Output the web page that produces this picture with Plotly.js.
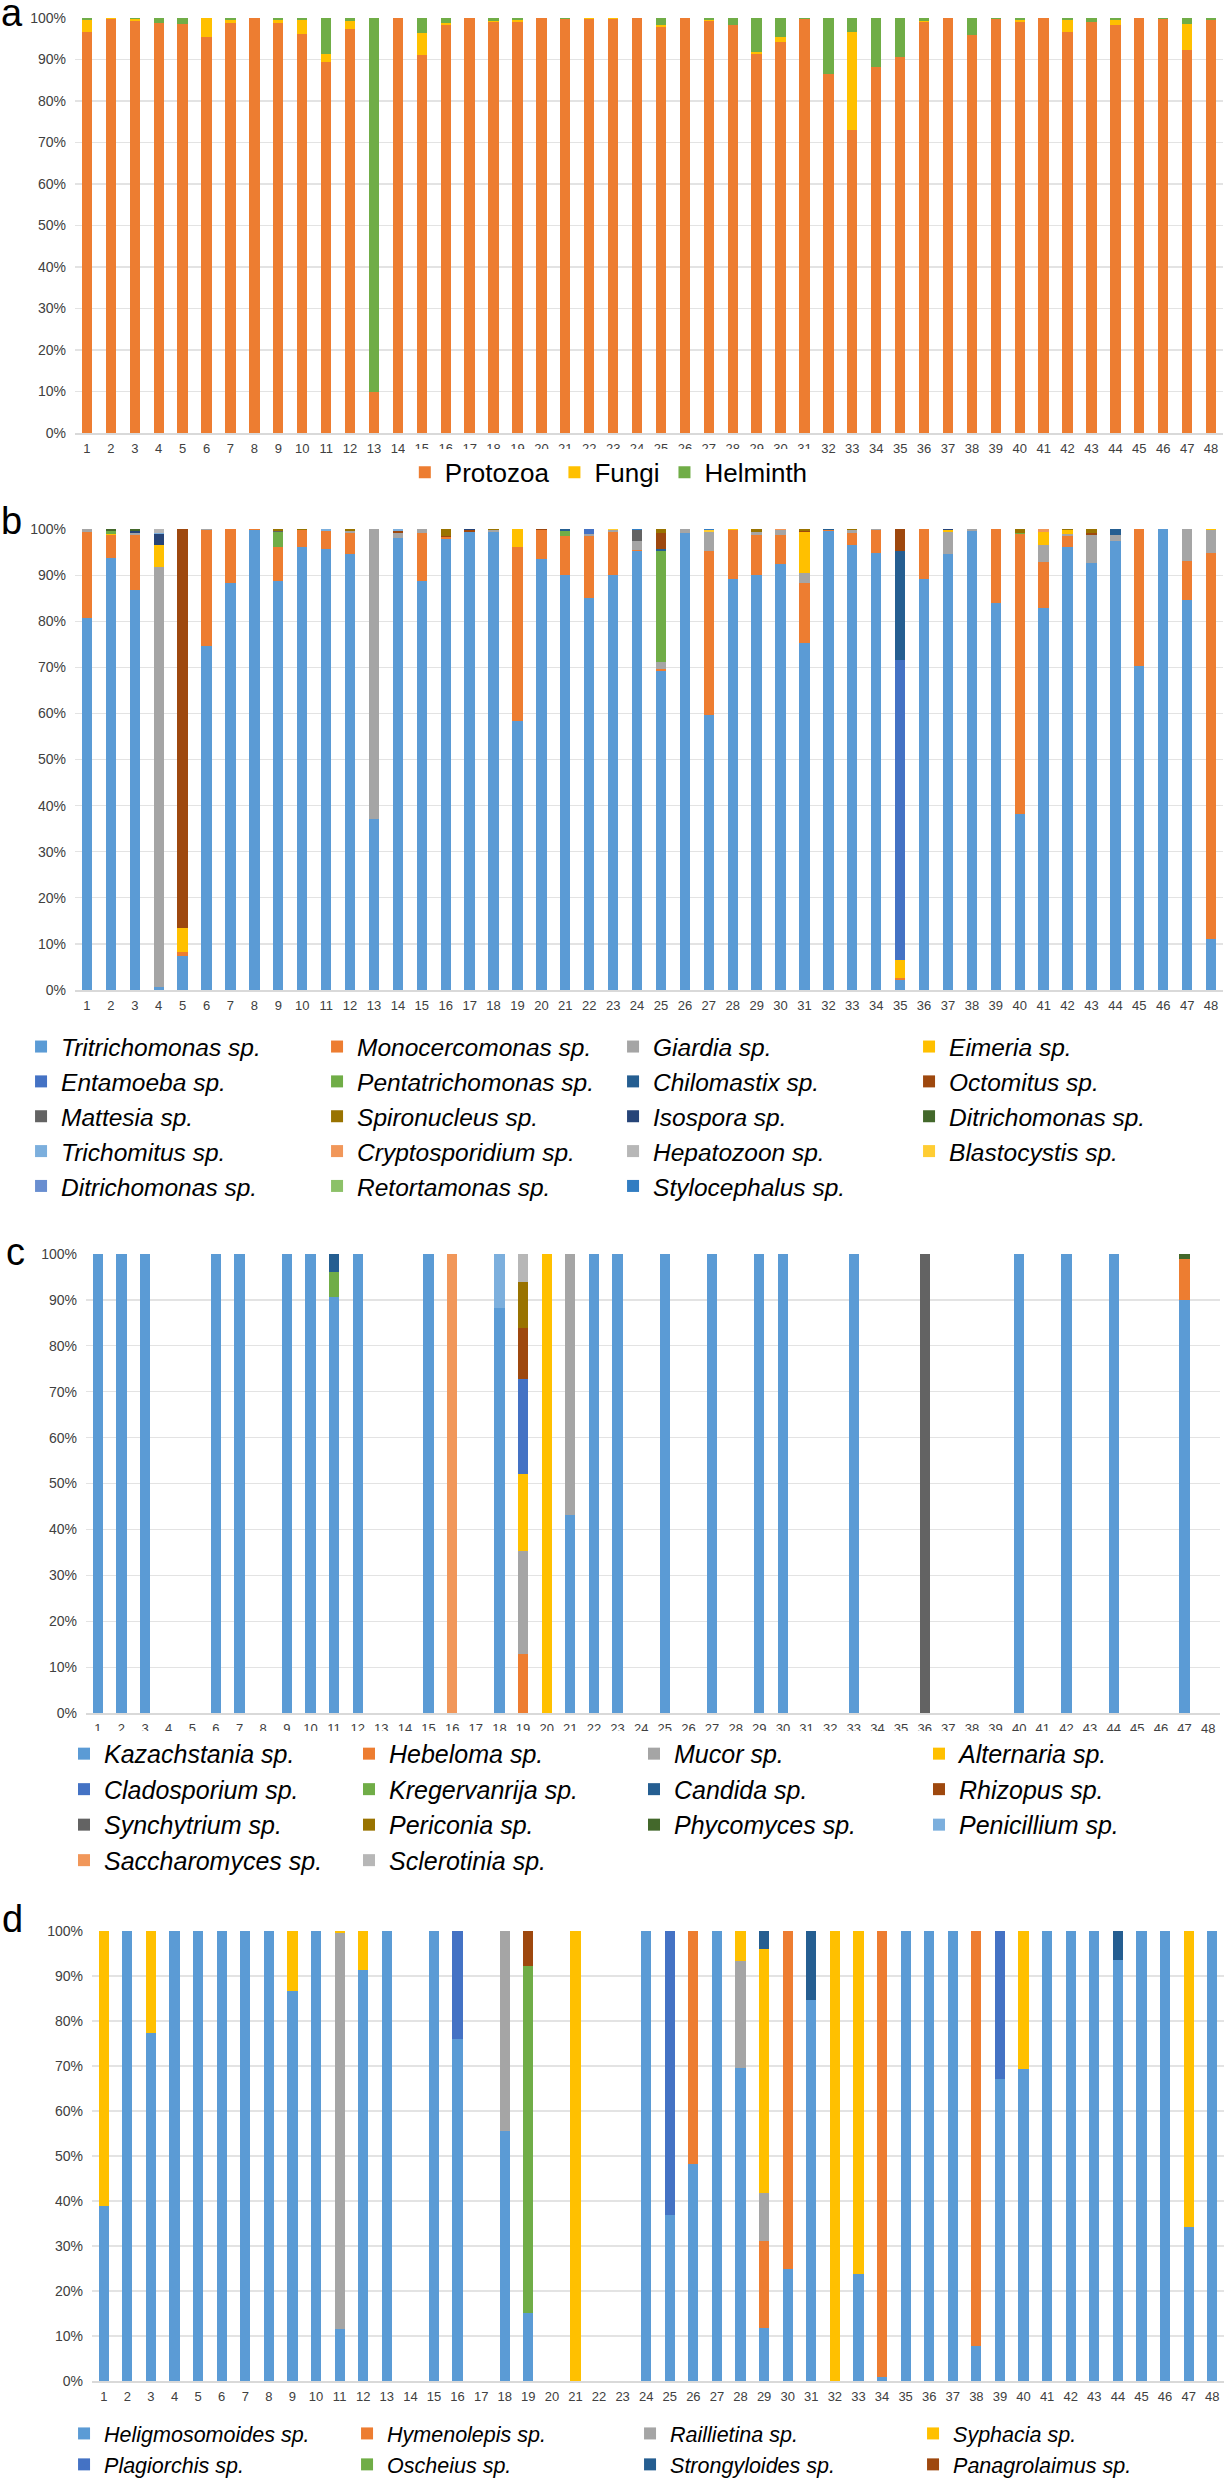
<!DOCTYPE html>
<html>
<head>
<meta charset="utf-8">
<script src="https://cdn.plot.ly/plotly-3.0.1.min.js"></script>
<style>
  html, body { margin: 0; background: #fff; overflow: hidden; }
  .panel { width: 1224px; }
</style>
</head>
<body>
<div id="panelA" class="panel" style="height:500px"></div>
<div id="panelB" class="panel" style="height:730px"></div>
<div id="panelC" class="panel" style="height:670px"></div>
<div id="panelD" class="panel" style="height:600px"></div>
<script>
// sample labels shared by every panel
var samples = ['1','2','3','4','5','6','7','8','9','10','11','12',
  '13','14','15','16','17','18','19','20','21','22','23','24',
  '25','26','27','28','29','30','31','32','33','34','35','36',
  '37','38','39','40','41','42','43','44','45','46','47','48'];

////////////////////////////////////////////////////////
// a - Protozoa / Fungi / Helminth (% of reads)
////////////////////////////////////////////////////////
var aProtozoa = [96.6, 99.8, 99.3, 98.8, 98.6, 95.5, 98.9, 99.9, 98.7, 96.2, 89.4, 97.3,
  10.0, 100, 91.1, 98.3, 100, 99.0, 99.1, 100, 99.8, 99.8, 99.7, 100,
  97.8, 99.9, 99.3, 98.3, 91.4, 94.2, 99.8, 86.6, 73.0, 88.1, 90.6, 99.0,
  100, 95.8, 99.8, 99.0, 100, 96.7, 99.0, 98.3, 100, 99.8, 92.2, 99.6];
var aFungi = [2.9, 0.1, 0.4, 0, 0, 4.5, 0.7, 0, 0.9, 3.2, 2.0, 2.0,
  0, 0, 5.2, 0.4, 0, 0.3, 0.5, 0, 0, 0.2, 0.3, 0,
  0.4, 0, 0.3, 0, 0.4, 1.3, 0, 0, 23.7, 0, 0, 0.2,
  0, 0, 0, 0.5, 0, 2.7, 0, 1.1, 0, 0, 6.3, 0];
var aHelminth = [0.5, 0.1, 0.3, 1.2, 1.4, 0, 0.4, 0.1, 0.4, 0.6, 8.6, 0.7,
  90.0, 0, 3.7, 1.3, 0, 0.7, 0.4, 0, 0.2, 0, 0, 0,
  1.8, 0.1, 0.4, 1.7, 8.2, 4.5, 0.2, 13.4, 3.3, 11.9, 9.4, 0.8,
  0, 4.2, 0.2, 0.5, 0, 0.6, 1.0, 0.6, 0, 0.2, 1.5, 0.4];

var aNames = ['Protozoa', 'Fungi', 'Helminth'];
var aSeries = [aProtozoa, aFungi, aHelminth];
var aColors = ['#ED7D31', '#FFC000', '#70AD47'];

////////////////////////////////////////////////////////
// b - protozoan genera
////////////////////////////////////////////////////////
var bTritrichomonas = [80.8, 93.8, 86.7, 0.7, 7.4, 74.7, 88.2, 99.8, 88.8, 96.2, 95.7, 94.6,
  37.2, 98.0, 88.8, 97.9, 99.4, 99.4, 58.3, 93.4, 90.0, 85.0, 90.0, 95.2,
  69.3, 99.1, 59.7, 89.1, 90.0, 92.5, 75.2, 99.5, 96.6, 94.9, 2.2, 89.1,
  94.6, 99.6, 84.0, 38.2, 82.8, 96.0, 92.6, 97.4, 70.3, 99.9, 84.6, 11.0];
var bMonocercomonas = [18.5, 4.8, 11.9, 0, 0.9, 25.1, 11.7, 0.2, 7.2, 3.5, 3.9, 4.5,
  0, 0, 10.3, 0.3, 0, 0, 37.9, 6.3, 8.5, 13.5, 9.4, 0.3,
  0.4, 0, 35.6, 10.7, 8.8, 6.3, 13.0, 0.2, 2.6, 4.9, 0.4, 10.9,
  0, 0, 16.0, 60.8, 10.0, 2.5, 0, 0, 29.7, 0, 8.5, 83.9];
var bGiardia = [0.7, 0, 0.5, 91.1, 0, 0.2, 0, 0, 0, 0, 0, 0.4,
  62.8, 1.2, 0.9, 0, 0, 0.3, 0, 0, 0, 0.4, 0.3, 1.9,
  1.5, 0.9, 4.0, 0, 0.5, 0.9, 2.3, 0, 0.5, 0.2, 0, 0,
  4.8, 0.4, 0, 0, 3.7, 0.5, 6.2, 1.2, 0, 0.1, 6.9, 4.9];
var bEimeria = [0, 0.4, 0, 4.7, 5.2, 0, 0.1, 0, 0, 0, 0, 0,
  0, 0, 0, 0, 0, 0, 3.7, 0, 0, 0, 0, 0,
  0, 0, 0, 0.2, 0, 0, 8.8, 0, 0, 0, 4.0, 0,
  0.3, 0, 0, 0, 2.8, 0.7, 0, 0.2, 0, 0, 0, 0.2];
var bEntamoeba = [0, 0, 0, 0, 0, 0, 0, 0, 0, 0, 0, 0,
  0, 0, 0, 0, 0, 0, 0, 0, 0, 1.1, 0, 0,
  0, 0, 0, 0, 0, 0, 0, 0, 0, 0, 65.0, 0,
  0, 0, 0, 0, 0, 0, 0, 0, 0, 0, 0, 0];
var bPentatrichomonas = [0, 0.6, 0, 0, 0, 0, 0, 0, 3.3, 0, 0, 0,
  0, 0, 0, 0, 0, 0, 0, 0, 1.1, 0, 0, 0,
  24.1, 0, 0, 0, 0, 0, 0, 0, 0, 0, 0, 0,
  0, 0, 0, 0.2, 0, 0, 0, 0, 0, 0, 0, 0];
var bChilomastix = [0, 0, 0, 0, 0, 0, 0, 0, 0, 0, 0, 0,
  0, 0, 0, 0, 0, 0, 0, 0, 0.4, 0, 0, 0,
  0.3, 0, 0, 0, 0, 0, 0, 0.3, 0, 0, 23.7, 0,
  0, 0, 0, 0, 0, 0, 0, 1.2, 0, 0, 0, 0];
var bOctomitus = [0, 0, 0, 0, 86.5, 0, 0, 0, 0, 0, 0, 0,
  0, 0.3, 0, 0.3, 0.3, 0, 0, 0.3, 0, 0, 0, 0,
  3.5, 0, 0, 0, 0, 0, 0.3, 0, 0, 0, 4.7, 0,
  0, 0, 0, 0, 0, 0, 0.4, 0, 0, 0, 0, 0];
var bMattesia = [0, 0, 0, 0, 0, 0, 0, 0, 0.3, 0, 0, 0,
  0, 0, 0, 0, 0, 0, 0, 0, 0, 0, 0, 2.3,
  0, 0, 0, 0, 0, 0, 0, 0, 0, 0, 0, 0,
  0, 0, 0, 0, 0, 0, 0, 0, 0, 0, 0, 0];
var bSpironucleus = [0, 0, 0, 0, 0, 0, 0, 0, 0.4, 0.3, 0, 0.5,
  0, 0, 0, 1.5, 0, 0.3, 0, 0, 0, 0, 0, 0,
  0.9, 0, 0, 0, 0.7, 0, 0.4, 0, 0.3, 0, 0, 0,
  0, 0, 0, 0.8, 0, 0.3, 0.8, 0, 0, 0, 0, 0];
var bIsospora = [0, 0, 0.5, 2.4, 0, 0, 0, 0, 0, 0, 0, 0,
  0, 0, 0, 0, 0.3, 0, 0, 0, 0, 0, 0, 0,
  0, 0, 0, 0, 0, 0, 0, 0, 0, 0, 0, 0,
  0.3, 0, 0, 0, 0, 0, 0, 0, 0, 0, 0, 0];
var bDitrichomonas = [0, 0.4, 0.4, 0, 0, 0, 0, 0, 0, 0, 0, 0,
  0, 0, 0, 0, 0, 0, 0, 0, 0, 0, 0, 0,
  0, 0, 0, 0, 0, 0, 0, 0, 0, 0, 0, 0,
  0, 0, 0, 0, 0, 0, 0, 0, 0, 0, 0, 0];
var bTrichomitus = [0, 0, 0, 0.3, 0, 0, 0, 0, 0, 0, 0.4, 0,
  0, 0.5, 0, 0, 0, 0, 0, 0, 0, 0, 0, 0,
  0, 0, 0, 0, 0, 0, 0, 0, 0, 0, 0, 0,
  0, 0, 0, 0, 0, 0, 0, 0, 0, 0, 0, 0];
var bCryptosporidium = [0, 0, 0, 0, 0, 0, 0, 0, 0, 0, 0, 0,
  0, 0, 0, 0, 0, 0, 0, 0, 0, 0, 0, 0,
  0, 0, 0, 0, 0, 0.3, 0, 0, 0, 0, 0, 0,
  0, 0, 0, 0, 0.7, 0, 0, 0, 0, 0, 0, 0];
var bHepatozoon = [0, 0, 0, 0.8, 0, 0, 0, 0, 0, 0, 0, 0,
  0, 0, 0, 0, 0, 0, 0, 0, 0, 0, 0, 0,
  0, 0, 0, 0, 0, 0, 0, 0, 0, 0, 0, 0,
  0, 0, 0, 0, 0, 0, 0, 0, 0, 0, 0, 0];
var bBlastocystis = [0, 0, 0, 0, 0, 0, 0, 0, 0, 0, 0, 0,
  0, 0, 0, 0, 0, 0, 0.1, 0, 0, 0, 0.3, 0,
  0, 0, 0.4, 0, 0, 0, 0, 0, 0, 0, 0, 0,
  0, 0, 0, 0, 0, 0, 0, 0, 0, 0, 0, 0];
var bDitrichomonas2 = [0, 0, 0, 0, 0, 0, 0, 0, 0, 0, 0, 0,
  0, 0, 0, 0, 0, 0, 0, 0, 0, 0, 0, 0,
  0, 0, 0, 0, 0, 0, 0, 0, 0, 0, 0, 0,
  0, 0, 0, 0, 0, 0, 0, 0, 0, 0, 0, 0];
var bRetortamonas = [0, 0, 0, 0, 0, 0, 0, 0, 0, 0, 0, 0,
  0, 0, 0, 0, 0, 0, 0, 0, 0, 0, 0, 0,
  0, 0, 0, 0, 0, 0, 0, 0, 0, 0, 0, 0,
  0, 0, 0, 0, 0, 0, 0, 0, 0, 0, 0, 0];
var bStylocephalus = [0, 0, 0, 0, 0, 0, 0, 0, 0, 0, 0, 0,
  0, 0, 0, 0, 0, 0, 0, 0, 0, 0, 0, 0.3,
  0, 0, 0.3, 0, 0, 0, 0, 0, 0, 0, 0, 0,
  0, 0, 0, 0, 0, 0, 0, 0, 0, 0, 0, 0];

var bNames = ['Tritrichomonas sp.', 'Monocercomonas sp.', 'Giardia sp.', 'Eimeria sp.',
  'Entamoeba sp.', 'Pentatrichomonas sp.', 'Chilomastix sp.', 'Octomitus sp.',
  'Mattesia sp.', 'Spironucleus sp.', 'Isospora sp.', 'Ditrichomonas sp.',
  'Trichomitus sp.', 'Cryptosporidium sp.', 'Hepatozoon sp.', 'Blastocystis sp.',
  'Ditrichomonas sp.', 'Retortamonas sp.', 'Stylocephalus sp.'];
var bSeries = [bTritrichomonas, bMonocercomonas, bGiardia, bEimeria,
  bEntamoeba, bPentatrichomonas, bChilomastix, bOctomitus,
  bMattesia, bSpironucleus, bIsospora, bDitrichomonas,
  bTrichomitus, bCryptosporidium, bHepatozoon, bBlastocystis,
  bDitrichomonas2, bRetortamonas, bStylocephalus];
var bColors = ['#5B9BD5', '#ED7D31', '#A5A5A5', '#FFC000',
  '#4472C4', '#70AD47', '#255E91', '#9E480E',
  '#636363', '#997300', '#264478', '#43682B',
  '#7CAFDD', '#F1975A', '#B7B7B7', '#FFCD33',
  '#698ED0', '#8CC168', '#327DC2'];

////////////////////////////////////////////////////////
// c - fungal genera
////////////////////////////////////////////////////////
var cKazachstania = [100, 100, 100, 0, 0, 100, 100, 0, 100, 100, 90.7, 100,
  0, 0, 100, 0, 0, 88.2, 0, 0, 43.1, 100, 100, 0,
  100, 0, 100, 0, 100, 100, 0, 0, 100, 0, 0, 0,
  0, 0, 0, 100, 0, 100, 0, 100, 0, 0, 90.0, 0];
var cHebeloma = [0, 0, 0, 0, 0, 0, 0, 0, 0, 0, 0, 0,
  0, 0, 0, 0, 0, 0, 12.9, 0, 0, 0, 0, 0,
  0, 0, 0, 0, 0, 0, 0, 0, 0, 0, 0, 0,
  0, 0, 0, 0, 0, 0, 0, 0, 0, 0, 8.9, 0];
var cMucor = [0, 0, 0, 0, 0, 0, 0, 0, 0, 0, 0, 0,
  0, 0, 0, 0, 0, 0, 22.3, 0, 56.9, 0, 0, 0,
  0, 0, 0, 0, 0, 0, 0, 0, 0, 0, 0, 0,
  0, 0, 0, 0, 0, 0, 0, 0, 0, 0, 0, 0];
var cAlternaria = [0, 0, 0, 0, 0, 0, 0, 0, 0, 0, 0, 0,
  0, 0, 0, 0, 0, 0, 16.8, 100, 0, 0, 0, 0,
  0, 0, 0, 0, 0, 0, 0, 0, 0, 0, 0, 0,
  0, 0, 0, 0, 0, 0, 0, 0, 0, 0, 0, 0];
var cCladosporium = [0, 0, 0, 0, 0, 0, 0, 0, 0, 0, 0, 0,
  0, 0, 0, 0, 0, 0, 20.7, 0, 0, 0, 0, 0,
  0, 0, 0, 0, 0, 0, 0, 0, 0, 0, 0, 0,
  0, 0, 0, 0, 0, 0, 0, 0, 0, 0, 0, 0];
var cKregervanrija = [0, 0, 0, 0, 0, 0, 0, 0, 0, 0, 5.3, 0,
  0, 0, 0, 0, 0, 0, 0, 0, 0, 0, 0, 0,
  0, 0, 0, 0, 0, 0, 0, 0, 0, 0, 0, 0,
  0, 0, 0, 0, 0, 0, 0, 0, 0, 0, 0, 0];
var cCandida = [0, 0, 0, 0, 0, 0, 0, 0, 0, 0, 4.0, 0,
  0, 0, 0, 0, 0, 0, 0, 0, 0, 0, 0, 0,
  0, 0, 0, 0, 0, 0, 0, 0, 0, 0, 0, 0,
  0, 0, 0, 0, 0, 0, 0, 0, 0, 0, 0, 0];
var cRhizopus = [0, 0, 0, 0, 0, 0, 0, 0, 0, 0, 0, 0,
  0, 0, 0, 0, 0, 0, 11.1, 0, 0, 0, 0, 0,
  0, 0, 0, 0, 0, 0, 0, 0, 0, 0, 0, 0,
  0, 0, 0, 0, 0, 0, 0, 0, 0, 0, 0, 0];
var cSynchytrium = [0, 0, 0, 0, 0, 0, 0, 0, 0, 0, 0, 0,
  0, 0, 0, 0, 0, 0, 0, 0, 0, 0, 0, 0,
  0, 0, 0, 0, 0, 0, 0, 0, 0, 0, 0, 100,
  0, 0, 0, 0, 0, 0, 0, 0, 0, 0, 0, 0];
var cPericonia = [0, 0, 0, 0, 0, 0, 0, 0, 0, 0, 0, 0,
  0, 0, 0, 0, 0, 0, 10.2, 0, 0, 0, 0, 0,
  0, 0, 0, 0, 0, 0, 0, 0, 0, 0, 0, 0,
  0, 0, 0, 0, 0, 0, 0, 0, 0, 0, 0, 0];
var cPhycomyces = [0, 0, 0, 0, 0, 0, 0, 0, 0, 0, 0, 0,
  0, 0, 0, 0, 0, 0, 0, 0, 0, 0, 0, 0,
  0, 0, 0, 0, 0, 0, 0, 0, 0, 0, 0, 0,
  0, 0, 0, 0, 0, 0, 0, 0, 0, 0, 1.1, 0];
var cPenicillium = [0, 0, 0, 0, 0, 0, 0, 0, 0, 0, 0, 0,
  0, 0, 0, 0, 0, 11.8, 0, 0, 0, 0, 0, 0,
  0, 0, 0, 0, 0, 0, 0, 0, 0, 0, 0, 0,
  0, 0, 0, 0, 0, 0, 0, 0, 0, 0, 0, 0];
var cSaccharomyces = [0, 0, 0, 0, 0, 0, 0, 0, 0, 0, 0, 0,
  0, 0, 0, 100, 0, 0, 0, 0, 0, 0, 0, 0,
  0, 0, 0, 0, 0, 0, 0, 0, 0, 0, 0, 0,
  0, 0, 0, 0, 0, 0, 0, 0, 0, 0, 0, 0];
var cSclerotinia = [0, 0, 0, 0, 0, 0, 0, 0, 0, 0, 0, 0,
  0, 0, 0, 0, 0, 0, 6.0, 0, 0, 0, 0, 0,
  0, 0, 0, 0, 0, 0, 0, 0, 0, 0, 0, 0,
  0, 0, 0, 0, 0, 0, 0, 0, 0, 0, 0, 0];

var cNames = ['Kazachstania sp.', 'Hebeloma sp.', 'Mucor sp.', 'Alternaria sp.',
  'Cladosporium sp.', 'Kregervanrija sp.', 'Candida sp.', 'Rhizopus sp.',
  'Synchytrium sp.', 'Periconia sp.', 'Phycomyces sp.', 'Penicillium sp.',
  'Saccharomyces sp.', 'Sclerotinia sp.'];
var cSeries = [cKazachstania, cHebeloma, cMucor, cAlternaria,
  cCladosporium, cKregervanrija, cCandida, cRhizopus,
  cSynchytrium, cPericonia, cPhycomyces, cPenicillium,
  cSaccharomyces, cSclerotinia];
var cColors = ['#5B9BD5', '#ED7D31', '#A5A5A5', '#FFC000',
  '#4472C4', '#70AD47', '#255E91', '#9E480E',
  '#636363', '#997300', '#43682B', '#7CAFDD',
  '#F1975A', '#B7B7B7'];

////////////////////////////////////////////////////////
// d - helminth genera
////////////////////////////////////////////////////////
var dHeligmosomoides = [38.9, 100, 77.4, 100, 100, 100, 100, 100, 86.7, 100, 11.5, 91.3,
  100, 0, 100, 76.1, 0, 55.5, 15.2, 0, 0, 0, 0, 100,
  37.0, 48.3, 100, 69.6, 11.8, 24.9, 84.6, 0, 23.8, 1.0, 100, 100,
  100, 7.8, 67.1, 69.3, 100, 100, 100, 93.6, 100, 100, 34.2, 100];
var dHymenolepis = [0, 0, 0, 0, 0, 0, 0, 0, 0, 0, 0, 0,
  0, 0, 0, 0, 0, 0, 0, 0, 0, 0, 0, 0,
  0, 51.7, 0, 0, 19.4, 75.1, 0, 0, 0, 99.0, 0, 0,
  0, 92.2, 0, 0, 0, 0, 0, 0, 0, 0, 0, 0];
var dRaillietina = [0, 0, 0, 0, 0, 0, 0, 0, 0, 0, 88.1, 0,
  0, 0, 0, 0, 0, 44.5, 0, 0, 0, 0, 0, 0,
  0, 0, 0, 23.7, 10.5, 0, 0, 0, 0, 0, 0, 0,
  0, 0, 0, 0, 0, 0, 0, 0, 0, 0, 0, 0];
var dSyphacia = [61.1, 0, 22.6, 0, 0, 0, 0, 0, 13.3, 0, 0.4, 8.7,
  0, 0, 0, 0, 0, 0, 0, 0, 100, 0, 0, 0,
  0, 0, 0, 6.7, 54.4, 0, 0, 100, 76.2, 0, 0, 0,
  0, 0, 0, 30.7, 0, 0, 0, 0, 0, 0, 65.8, 0];
var dPlagiorchis = [0, 0, 0, 0, 0, 0, 0, 0, 0, 0, 0, 0,
  0, 0, 0, 23.9, 0, 0, 0, 0, 0, 0, 0, 0,
  63.0, 0, 0, 0, 0, 0, 0, 0, 0, 0, 0, 0,
  0, 0, 32.9, 0, 0, 0, 0, 0, 0, 0, 0, 0];
var dOscheius = [0, 0, 0, 0, 0, 0, 0, 0, 0, 0, 0, 0,
  0, 0, 0, 0, 0, 0, 77.1, 0, 0, 0, 0, 0,
  0, 0, 0, 0, 0, 0, 0, 0, 0, 0, 0, 0,
  0, 0, 0, 0, 0, 0, 0, 0, 0, 0, 0, 0];
var dStrongyloides = [0, 0, 0, 0, 0, 0, 0, 0, 0, 0, 0, 0,
  0, 0, 0, 0, 0, 0, 0, 0, 0, 0, 0, 0,
  0, 0, 0, 0, 3.9, 0, 15.4, 0, 0, 0, 0, 0,
  0, 0, 0, 0, 0, 0, 0, 6.4, 0, 0, 0, 0];
var dPanagrolaimus = [0, 0, 0, 0, 0, 0, 0, 0, 0, 0, 0, 0,
  0, 0, 0, 0, 0, 0, 7.7, 0, 0, 0, 0, 0,
  0, 0, 0, 0, 0, 0, 0, 0, 0, 0, 0, 0,
  0, 0, 0, 0, 0, 0, 0, 0, 0, 0, 0, 0];

var dNames = ['Heligmosomoides sp.', 'Hymenolepis sp.', 'Raillietina sp.', 'Syphacia sp.',
  'Plagiorchis sp.', 'Oscheius sp.', 'Strongyloides sp.', 'Panagrolaimus sp.'];
var dSeries = [dHeligmosomoides, dHymenolepis, dRaillietina, dSyphacia,
  dPlagiorchis, dOscheius, dStrongyloides, dPanagrolaimus];
var dColors = ['#5B9BD5', '#ED7D31', '#A5A5A5', '#FFC000',
  '#4472C4', '#70AD47', '#255E91', '#9E480E'];

////////////////////////////////////////////////////////
// shared styling
////////////////////////////////////////////////////////
var FONT = 'Liberation Sans, Arial, sans-serif';

function makeTraces(names, series, colors) {
  return names.map(function(name, i) {
    return {
      x: samples,
      y: series[i],
      name: name,
      type: 'bar',
      marker: {color: colors[i], line: {width: 0}},
      hoverinfo: 'skip'
    };
  });
}

function makeLayout(p) {
  return {
    width: 1224,
    height: p.height,
    margin: p.margin,
    barmode: 'stack',
    bargap: 0.57,
    paper_bgcolor: '#fff',
    plot_bgcolor: '#fff',
    font: {family: FONT, color: '#404040'},
    xaxis: {
      type: 'category',
      tickangle: 0,
      tickfont: {size: 13, color: '#404040'},
      ticks: '',
      showline: true,
      linecolor: '#d9d9d9',
      linewidth: 1.5,
      showgrid: false,
      ticklabelstandoff: 3
    },
    yaxis: {
      range: [0, 100],
      dtick: 10,
      ticksuffix: '%',
      tickfont: {size: 14, color: '#404040'},
      gridcolor: '#e3e3e3',
      gridwidth: 1.2,
      zeroline: false,
      ticks: '',
      ticklabelstandoff: 8
    },
    showlegend: true,
    legend: p.legend,
    annotations: [{
      text: p.letter,
      xref: 'paper', yref: 'paper',
      x: p.letterX, y: p.letterY,
      xanchor: 'left', yanchor: 'middle',
      showarrow: false,
      font: {family: FONT, size: 38, color: '#000'}
    }]
  };
}

var config = {displayModeBar: false, staticPlot: true};

// Panel a
Plotly.newPlot('panelA', makeTraces(aNames, aSeries, aColors), makeLayout({
  height: 500,
  margin: {l: 75, r: 1, t: 18, b: 67},
  letter: 'a', letterX: -0.066, letterY: 1.012,
  legend: {
    orientation: 'h', traceorder: 'normal',
    x: 0.465, xanchor: 'center', y: -0.038, yanchor: 'top',
    font: {family: FONT, size: 26, color: '#000'}
  }
}), config);

// Panel b
Plotly.newPlot('panelB', makeTraces(bNames, bSeries, bColors), makeLayout({
  height: 730,
  margin: {l: 75, r: 1, t: 29, b: 240},
  letter: 'b', letterX: -0.066, letterY: 1.017,
  legend: {
    orientation: 'h', traceorder: 'normal',
    x: -0.047, xanchor: 'left', y: -0.074, yanchor: 'top',
    entrywidth: 251, entrywidthmode: 'pixels',
    font: {family: FONT, size: 24.5, color: '#000', style: 'italic'}
  }
}), config);

// Panel c
Plotly.newPlot('panelC', makeTraces(cNames, cSeries, cColors), makeLayout({
  height: 670,
  margin: {l: 86, r: 4, t: 24, b: 187},
  letter: 'c', letterX: -0.072, letterY: 1.004,
  legend: {
    orientation: 'h', traceorder: 'normal',
    x: -0.0194, xanchor: 'left', y: -0.039, yanchor: 'top',
    entrywidth: 240, entrywidthmode: 'pixels',
    font: {family: FONT, size: 25, color: '#000', style: 'italic'}
  }
}), config);

// Panel d
Plotly.newPlot('panelD', makeTraces(dNames, dSeries, dColors), makeLayout({
  height: 600,
  margin: {l: 92, r: 0, t: 31, b: 119},
  letter: 'd', letterX: -0.081, letterY: 1.027,
  legend: {
    orientation: 'h', traceorder: 'normal',
    x: -0.0247, xanchor: 'left', y: -0.071, yanchor: 'top',
    entrywidth: 238, entrywidthmode: 'pixels',
    font: {family: FONT, size: 21.5, color: '#000', style: 'italic'}
  }
}), config);
</script>
</body>
</html>
